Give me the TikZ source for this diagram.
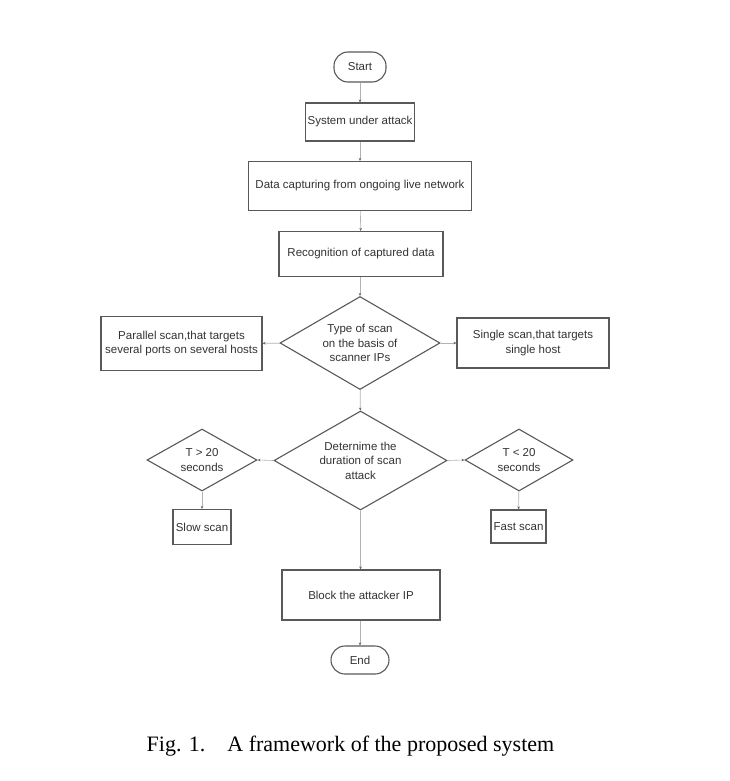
\documentclass[tikz,border=0pt]{standalone}
\usepackage{fontspec}
\setmainfont{Liberation Serif}
\setsansfont{Liberation Sans}
\usetikzlibrary{shapes.geometric,arrows.meta}

\begin{document}
\begin{tikzpicture}[x=1pt,y=-1pt,
    box/.style={draw=black!65,line width=1.1pt,fill=white,inner sep=0pt,align=center,
        font=\sffamily\fontsize{11.5}{14.5}\selectfont,text=black!80},
    term/.style={box,rounded corners=14pt},
    decide/.style={box,diamond,aspect=1.7},
    link/.style={draw=black!30,line width=0.6pt,-{Stealth[length=3pt,width=2.6pt,black!60]}}]
    \useasboundingbox (0,0) rectangle (729,781);

    \node[term,minimum width=52pt,minimum height=30pt] (start) at (360,67) {Start};
    \node[box,minimum width=109pt,minimum height=38pt] (sys) at (360,122) {System under attack};
    \node[box,minimum width=223pt,minimum height=49pt] (cap) at (360,186) {Data capturing from ongoing live network};
    \node[box,minimum width=164pt,minimum height=45pt] (rec) at (361,254) {Recognition of captured data};

    \node[decide,minimum width=160pt,minimum height=93pt] (type) at (360,343) {Type of scan\\on the basis of\\scanner IPs};
    \node[box,minimum width=161pt,minimum height=54pt] (par) at (181.5,343.5) {Parallel scan,that targets\\several ports on several hosts};
    \node[box,minimum width=152pt,minimum height=50pt] (sing) at (533,343) {Single scan,that targets\\single host};

    \node[decide,minimum width=173pt,minimum height=99pt] (dur) at (360.5,460.5) {Deternime the\\duration of scan\\attack};
    \node[decide,minimum width=110pt,minimum height=62pt] (tgt) at (202,460) {T > 20\\seconds};
    \node[decide,minimum width=108pt,minimum height=62pt] (tlt) at (519,460) {T < 20\\seconds};
    \node[box,minimum width=58pt,minimum height=35pt] (slow) at (202,527) {Slow scan};
    \node[box,minimum width=55pt,minimum height=33pt] (fast) at (518.5,526.5) {Fast scan};

    \node[box,minimum width=158pt,minimum height=50pt] (block) at (361,595) {Block the attacker IP};
    \node[term,minimum width=58pt,minimum height=28pt] (end) at (360,660) {End};

    \draw[link] (start) -- (sys);
    \draw[link] (sys) -- (cap);
    \draw[link] (cap) -- (rec);
    \draw[link] (rec.south -| type.north) -- (type);
    \draw[link] (type) -- (par);
    \draw[link] (type) -- (sing);
    \draw[link] (type) -- (dur);
    \draw[link] (dur.west) -- (tgt.east);
    \draw[link] (dur.east) -- (tlt.west);
    \draw[link] (tgt) -- (slow);
    \draw[link] (tlt) -- (fast);
    \draw[link] (dur.south) -- (dur.south |- block.north);
    \draw[link] (block.south -| end.north) -- (end);

    \node[font=\fontsize{22}{26}\selectfont] (caption) at (350.5,746) {Fig. 1.\quad A framework of the proposed system};
\end{tikzpicture}
\end{document}
